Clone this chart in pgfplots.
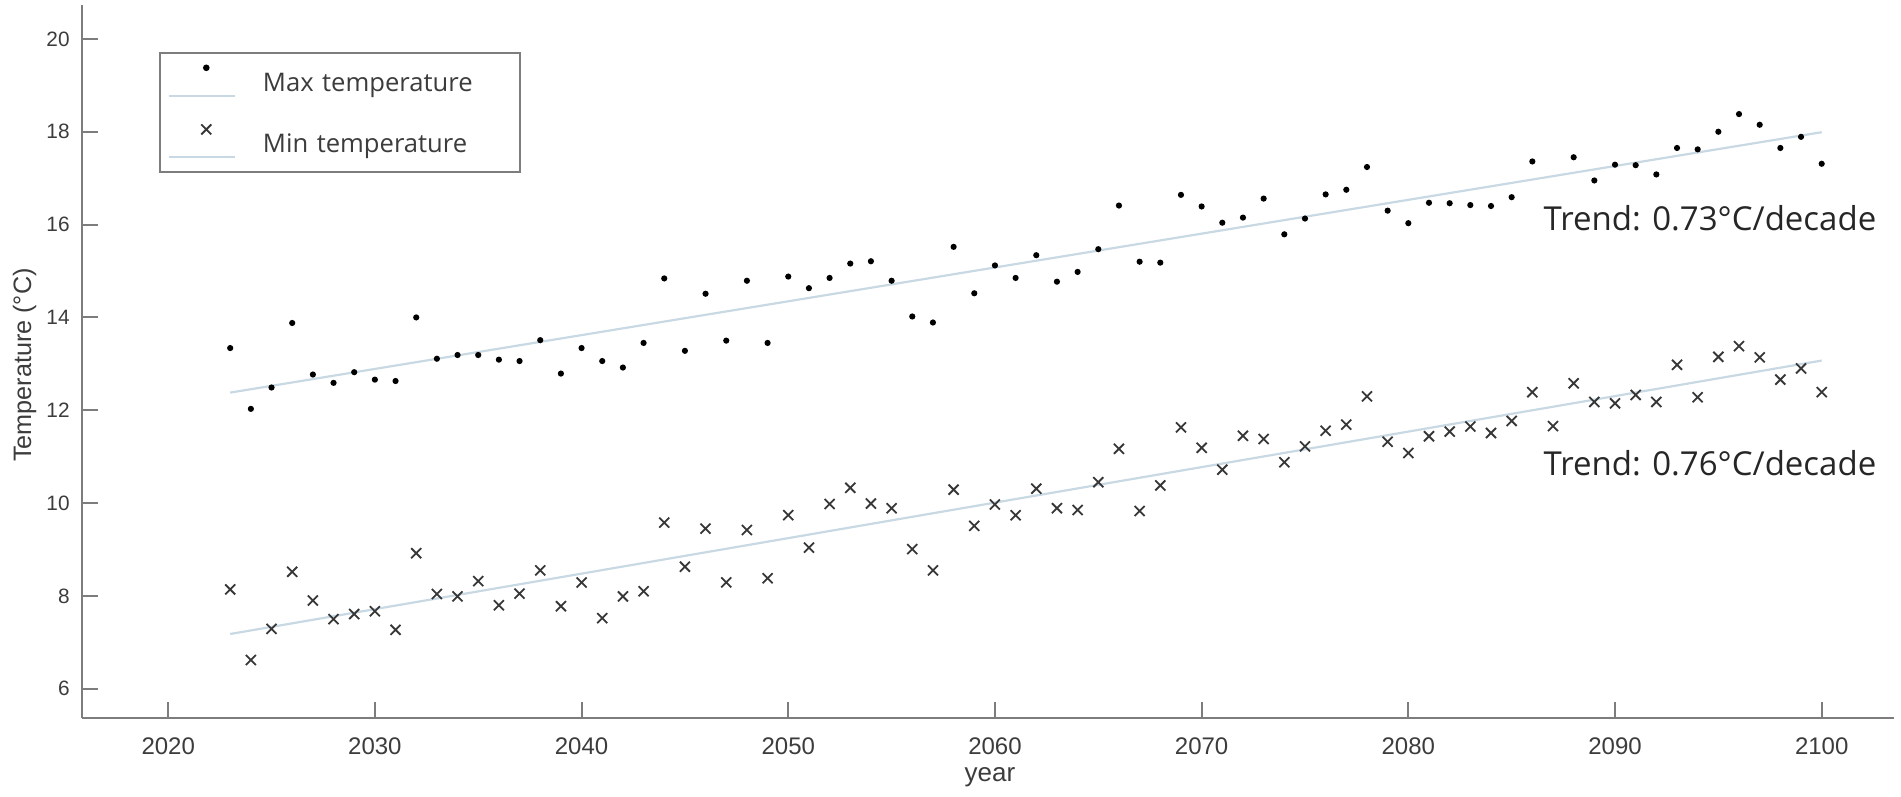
\documentclass[border=0pt]{standalone}
\usepackage{fontspec}
\setmainfont{Liberation Sans}
\newfontfamily\osfont{Open Sans}
\usepackage{pgfplots}
\usepackage{pgfplotstable}
\pgfplotsset{compat=1.18}
\definecolor{trendcol}{RGB}{200,217,227}
\definecolor{axgray}{RGB}{125,125,125}
\definecolor{txtgray}{RGB}{60,60,60}
\definecolor{xgray}{RGB}{55,55,55}

\pgfplotstableread{
year tmax
2023 13.34
2024 12.03
2025 12.49
2026 13.88
2027 12.77
2028 12.59
2029 12.82
2030 12.66
2031 12.63
2032 14.00
2033 13.11
2034 13.19
2035 13.19
2036 13.09
2037 13.06
2038 13.51
2039 12.79
2040 13.34
2041 13.06
2042 12.92
2043 13.45
2044 14.84
2045 13.28
2046 14.51
2047 13.50
2048 14.79
2049 13.45
2050 14.88
2051 14.63
2052 14.85
2053 15.16
2054 15.21
2055 14.79
2056 14.02
2057 13.89
2058 15.52
2059 14.52
2060 15.12
2061 14.85
2062 15.34
2063 14.77
2064 14.98
2065 15.47
2066 16.41
2067 15.20
2068 15.18
2069 16.64
2070 16.39
2071 16.04
2072 16.15
2073 16.56
2074 15.79
2075 16.13
2076 16.65
2077 16.75
2078 17.24
2079 16.30
2080 16.03
2081 16.47
2082 16.46
2083 16.42
2084 16.40
2085 16.59
2086 17.36
2088 17.45
2089 16.95
2090 17.29
2091 17.28
2092 17.08
2093 17.65
2094 17.62
2095 18.00
2096 18.38
2097 18.15
2098 17.65
2099 17.89
2100 17.31
}\maxtable

\pgfplotstableread{
year tmin
2023 8.14
2024 6.62
2025 7.29
2026 8.52
2027 7.90
2028 7.50
2029 7.61
2030 7.67
2031 7.27
2032 8.92
2033 8.04
2034 7.99
2035 8.32
2036 7.80
2037 8.05
2038 8.55
2039 7.78
2040 8.29
2041 7.52
2042 7.99
2043 8.10
2044 9.58
2045 8.63
2046 9.45
2047 8.29
2048 9.42
2049 8.38
2050 9.74
2051 9.04
2052 9.98
2053 10.33
2054 9.99
2055 9.89
2056 9.01
2057 8.55
2058 10.29
2059 9.51
2060 9.97
2061 9.74
2062 10.31
2063 9.89
2064 9.85
2065 10.45
2066 11.17
2067 9.83
2068 10.38
2069 11.63
2070 11.19
2071 10.72
2072 11.45
2073 11.38
2074 10.88
2075 11.22
2076 11.56
2077 11.69
2078 12.30
2079 11.32
2080 11.08
2081 11.44
2082 11.54
2083 11.65
2084 11.51
2085 11.77
2086 12.39
2087 11.66
2088 12.58
2089 12.18
2090 12.15
2091 12.33
2092 12.18
2093 12.98
2094 12.28
2095 13.15
2096 13.38
2097 13.14
2098 12.66
2099 12.90
2100 12.39
}\mintable

\pgfplotsset{
  legwithline/.style={legend image code/.code={%
    \draw[##1] plot coordinates {(9.4pt,3.4pt)};
    \draw[trendcol, line width=0.5pt] (0pt,-3.6pt) -- (16.6pt,-3.6pt);
  }}
}

\begin{document}
\begin{tikzpicture}
\begin{axis}[
  scale only axis, width=453pt, height=178.25pt,
  xmin=2015.83, xmax=2103.5, ymin=5.37, ymax=20.73,
  axis x line*=bottom, axis y line*=left,
  axis line style={-, axgray, line width=0.5pt},
  xtick={2020,2030,...,2100}, ytick={6,8,...,20},
  tick align=inside, major tick length=4pt,
  tick style={axgray, line width=0.5pt},
  minor tick num=0,
  /pgf/number format/assume math mode=true,
  /pgf/number format/1000 sep={},
  xticklabel style={font=\fontsize{6}{7}\selectfont, text=txtgray, inner sep=0pt, anchor=north, yshift=-4.67pt},
  yticklabel style={font=\fontsize{5.2}{6}\selectfont, text=txtgray, inner sep=0pt, anchor=east, xshift=-2.9pt},
  xlabel={year},
  xlabel style={at={(axis description cs:0.5011,-0.0893)}, anchor=base, font=\fontsize{6.5}{7}\selectfont, text=txtgray, inner sep=0pt},
  ylabel={Temperature (°C)},
  ylabel style={at={(axis description cs:-0.0281,0.495)}, rotate=0, anchor=base, font=\fontsize{6.3}{7}\selectfont, text=txtgray, inner sep=0pt},
  legend style={at={(rel axis cs:0.04266,0.9345)}, anchor=north west, draw=axgray, line width=0.5pt, fill=white,
    inner xsep=1.85pt, inner ysep=0pt, row sep=1.05pt,
    font=\osfont\fontsize{6.4}{7}\selectfont, text=txtgray,
    nodes={inner sep=0pt, text height=9.6pt, text depth=4.75pt, text width=62.5pt, align=left},
    /tikz/every odd column/.append style={column sep=6.7pt}},
  legend cell align=left,
  clip=false,
]
\addplot[trendcol, line width=0.55pt, forget plot] coordinates {(2023,12.38) (2100,17.99)};
\addplot[trendcol, line width=0.55pt, forget plot] coordinates {(2023,7.18) (2100,13.07)};
\addplot[only marks, mark=*, mark size=0.56pt, black, legwithline] table[x=year, y=tmax] {\maxtable};
\addlegendentry{Max temperature}
\addplot[only marks, mark=x, mark size=1.77pt, xgray, line width=0.45pt, legwithline] table[x=year, y=tmin] {\mintable};
\addlegendentry{Min temperature}
\node[anchor=base west, inner sep=0pt, font=\osfont\fontsize{8.25}{9}\selectfont, text=black!85] at (axis cs:2086.51,15.88) {Trend: 0.73°C/decade};
\node[anchor=base west, inner sep=0pt, font=\osfont\fontsize{8.25}{9}\selectfont, text=black!85] at (axis cs:2086.51,10.60) {Trend: 0.76°C/decade};
\coordinate (bbBL) at (rel axis cs:-0.04525,-0.1094);
\coordinate (bbTR) at (rel axis cs:1.003863,1.007013);
\end{axis}
\pgfresetboundingbox
\path[use as bounding box] (bbBL) rectangle (bbTR);
\end{tikzpicture}
\end{document}
